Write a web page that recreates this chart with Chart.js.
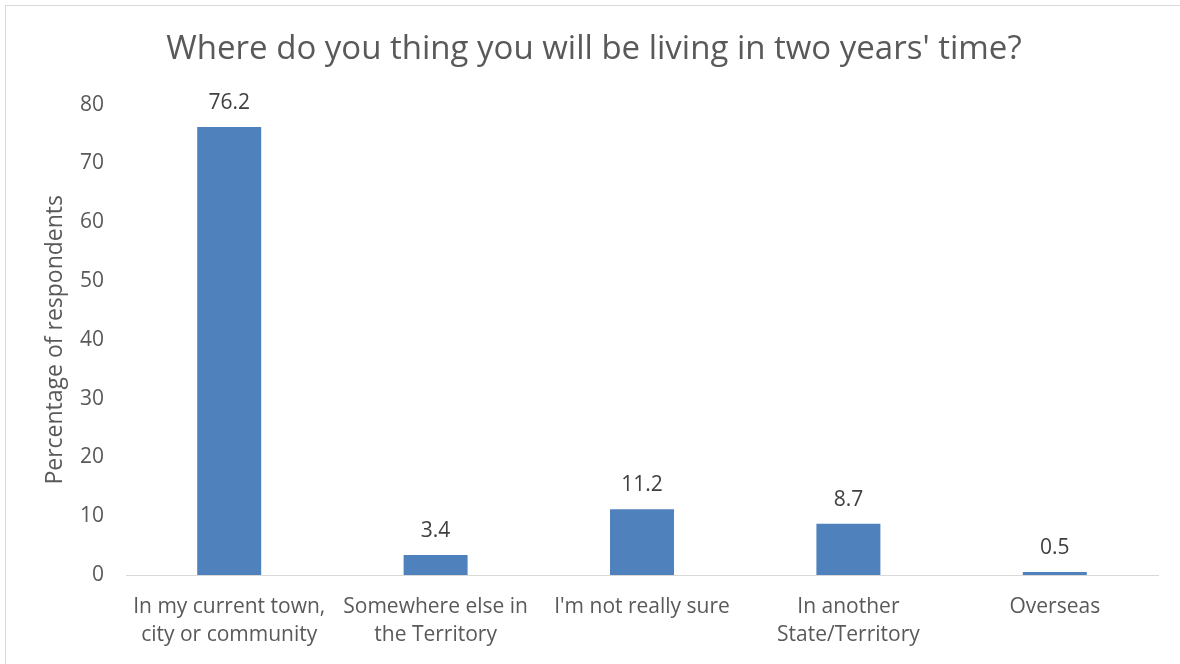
<!DOCTYPE html>
<html>
<head>
<meta charset="utf-8">
<script src="https://cdn.jsdelivr.net/npm/chart.js@4/dist/chart.umd.min.js"></script>
<style>
  html, body { margin: 0; padding: 0; background: #fff; }
  #wrap { width: 1180px; height: 664px; position: relative; }
</style>
</head>
<body>
<div id="wrap"><canvas id="chart" width="1180" height="664"></canvas></div>
<script>
// answers and percentages
const categories = [
    ['In my current town,', 'city or community'],
    ['Somewhere else in', 'the Territory'],
    "I'm not really sure",
    ['In another', 'State/Territory'],
    'Overseas'
];
const percentages = [76.2, 3.4, 11.2, 8.7, 0.5];
const yTicks = [0, 10, 20, 30, 40, 50, 60, 70, 80];

const fontFamily = '"Open Sans", "Noto Sans", sans-serif';
const textGrey = '#595959';

// frame around the whole chart
const framePlugin = {
    id: 'frame',
    beforeDraw(chart) {
        const ctx = chart.ctx;
        ctx.save();
        ctx.fillStyle = '#fff';
        ctx.fillRect(0, 0, chart.width, chart.height);
        ctx.strokeStyle = '#d9d9d9';
        ctx.lineWidth = 1;
        ctx.strokeRect(5.5, 5.5, 1190, 700);
        ctx.restore();
    }
};

// value written above each bar
const valueLabels = {
    id: 'valueLabels',
    afterDatasetsDraw(chart) {
        const ctx = chart.ctx;
        const meta = chart.getDatasetMeta(0);
        ctx.save();
        ctx.font = '21px ' + fontFamily;
        ctx.fillStyle = '#404040';
        ctx.textAlign = 'center';
        ctx.textBaseline = 'alphabetic';
        meta.data.forEach((bar, i) => {
            ctx.fillText(percentages[i].toFixed(1), bar.x, bar.y - 18);
        });
        ctx.restore();
    }
};

const ctx = document.getElementById('chart').getContext('2d');
const chart = new Chart(ctx, {
    type: 'bar',
    data: {
        labels: categories,
        datasets: [{
            data: percentages,
            backgroundColor: '#4f81bd',
            borderWidth: 0,
            categoryPercentage: 1,
            barPercentage: 0.31
        }]
    },
    options: {
        responsive: false,
        animation: false,
        layout: { padding: { top: 0, right: 22, bottom: 0, left: 30 } },
        plugins: {
            legend: { display: false },
            tooltip: { enabled: false },
            title: {
                display: true,
                text: "Where do you thing you will be living in two years' time?",
                color: textGrey,
                font: { family: fontFamily, size: 33, weight: 'normal' },
                padding: { top: 30, bottom: 35 }
            }
        },
        scales: {
            x: {
                grid: { display: false, drawTicks: false },
                border: { display: true, color: '#d9d9d9', width: 1 },
                ticks: {
                    color: textGrey,
                    font: { family: fontFamily, size: 21, lineHeight: 1.33 },
                    padding: 18,
                    maxRotation: 0,
                    autoSkip: false
                },
                afterFit(scale) { scale.height = 89; }
            },
            y: {
                min: 0,
                max: 80,
                afterBuildTicks(scale) { scale.ticks = yTicks.map(v => ({ value: v })); },
                grid: { display: false, drawTicks: false },
                border: { display: false },
                ticks: {
                    color: textGrey,
                    font: { family: fontFamily, size: 21 },
                    padding: 22
                },
                title: {
                    display: true,
                    text: 'Percentage of respondents',
                    color: textGrey,
                    font: { family: fontFamily, size: 23 },
                    padding: { top: 12, bottom: 0 }
                },
                afterFit(scale) { scale.width = 96; }
            }
        }
    },
    plugins: [framePlugin, valueLabels]
});
</script>
</body>
</html>
